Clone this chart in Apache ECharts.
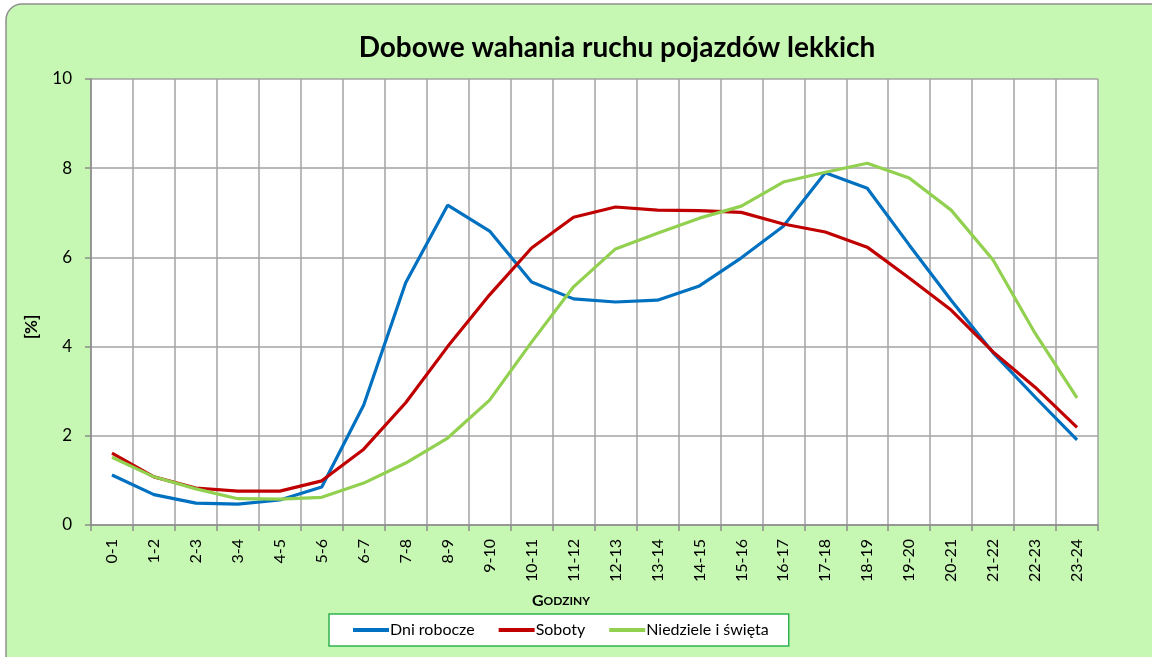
<!DOCTYPE html>
<html>
<head>
<meta charset="utf-8">
<script src="https://cdn.jsdelivr.net/npm/echarts@6/dist/echarts.min.js"></script>
<style>
html,body{margin:0;padding:0;background:#ffffff;}
#chart{width:1152px;height:657px;}
</style>
</head>
<body>
<div id="chart"></div>
<script>
const categories = ['0-1','1-2','2-3','3-4','4-5','5-6','6-7','7-8','8-9','9-10','10-11','11-12','12-13','13-14','14-15','15-16','16-17','17-18','18-19','19-20','20-21','21-22','22-23','23-24'];
const dniRobocze = [1.12,0.68,0.49,0.47,0.56,0.85,2.69,5.43,7.17,6.59,5.45,5.07,5.00,5.04,5.36,5.99,6.70,7.90,7.55,6.28,5.04,3.86,2.87,1.91];
const soboty = [1.61,1.08,0.83,0.76,0.76,0.99,1.70,2.74,4.00,5.16,6.21,6.90,7.13,7.06,7.05,7.01,6.75,6.57,6.23,5.54,4.82,3.88,3.09,2.19];
const niedziele = [1.52,1.08,0.81,0.59,0.58,0.62,0.94,1.39,1.95,2.80,4.10,5.34,6.19,6.54,6.88,7.15,7.69,7.91,8.11,7.78,7.06,5.94,4.30,2.85];
const yTicks = {min:0, max:10, interval:2};

const chart = echarts.init(document.getElementById('chart'));
const font = 'Lato, "Open Sans", sans-serif';
chart.setOption({
  backgroundColor: 'transparent',
  animation: false,
  graphic: [
    {type:'rect', z:-10, shape:{x:6,y:4,width:1170,height:680,r:16}, style:{fill:'#C7F8B3', stroke:'#8f8f8f', lineWidth:1.5}},
    {type:'text', x:561, y:601, style:{text:'{a|G}{b|ODZINY}', rich:{a:{fontSize:16,fontWeight:'bold',fontFamily:font,fill:'#000'},b:{fontSize:12,fontWeight:'bold',fontFamily:font,fill:'#000'}}, textAlign:'center', textVerticalAlign:'middle'}},
    {type:'text', x:32, y:327, rotation:Math.PI/2, style:{text:'[%]', fontSize:17, fontWeight:'bold', fontFamily:font, fill:'#000', textAlign:'center', textVerticalAlign:'middle'}}
  ],
  title: {
    text: 'Dobowe wahania ruchu pojazdów lekkich',
    left: 612, top: 29, textAlign: 'center',
    textStyle: {fontSize: 28, fontWeight: 'bold', fontFamily: font, color: '#000'}
  },
  legend: {
    left: 329, top: 614, width: 505, height: 34,
    itemWidth: 36, itemHeight: 4, itemGap: 24,
    padding: [8, 20, 8, 24],
    backgroundColor: '#ffffff', borderColor: '#2fb24f', borderWidth: 1.5,
    icon: 'rect',
    textStyle: {fontSize: 16, fontFamily: font, color: '#000', padding:[0,0,0,-4]},
    data: ['Dni robocze','Soboty','Niedziele i święta']
  },
  grid: {left: 91, right: 54, top: 79, bottom: 132, show: true, backgroundColor: '#ffffff', borderWidth: 0},
  xAxis: {
    type: 'category', data: categories, boundaryGap: true,
    axisLine: {lineStyle: {color: '#8c8c8c', width: 1.5}},
    axisTick: {show: true, alignWithLabel: false, length: 6, lineStyle: {color: '#8c8c8c', width: 1.5}},
    axisLabel: {rotate: 90, fontSize: 16, fontFamily: font, color: '#000', margin: 14, interval: 0},
    splitLine: {show: true, interval: 0, lineStyle: {color: '#a3a3a3', width: 1.5}}
  },
  yAxis: {
    type: 'value', min: yTicks.min, max: yTicks.max, interval: yTicks.interval,
    axisLine: {show: true, lineStyle: {color: '#8c8c8c', width: 1.5}},
    axisTick: {show: true, length: 6, lineStyle: {color: '#8c8c8c', width: 1.5}},
    axisLabel: {fontSize: 17, fontFamily: font, color: '#000', margin: 19},
    splitLine: {show: true, lineStyle: {color: '#a3a3a3', width: 1.5}}
  },
  series: [
    {name: 'Dni robocze', type: 'line', data: dniRobocze, showSymbol: false, symbol:'none', lineStyle: {width: 3.2, color: '#0070C0'}, itemStyle:{color:'#0070C0'}},
    {name: 'Soboty', type: 'line', data: soboty, showSymbol: false, symbol:'none', lineStyle: {width: 3.2, color: '#C00000'}, itemStyle:{color:'#C00000'}},
    {name: 'Niedziele i święta', type: 'line', data: niedziele, showSymbol: false, symbol:'none', lineStyle: {width: 3.2, color: '#92D050'}, itemStyle:{color:'#92D050'}}
  ]
});
</script>
</body>
</html>
